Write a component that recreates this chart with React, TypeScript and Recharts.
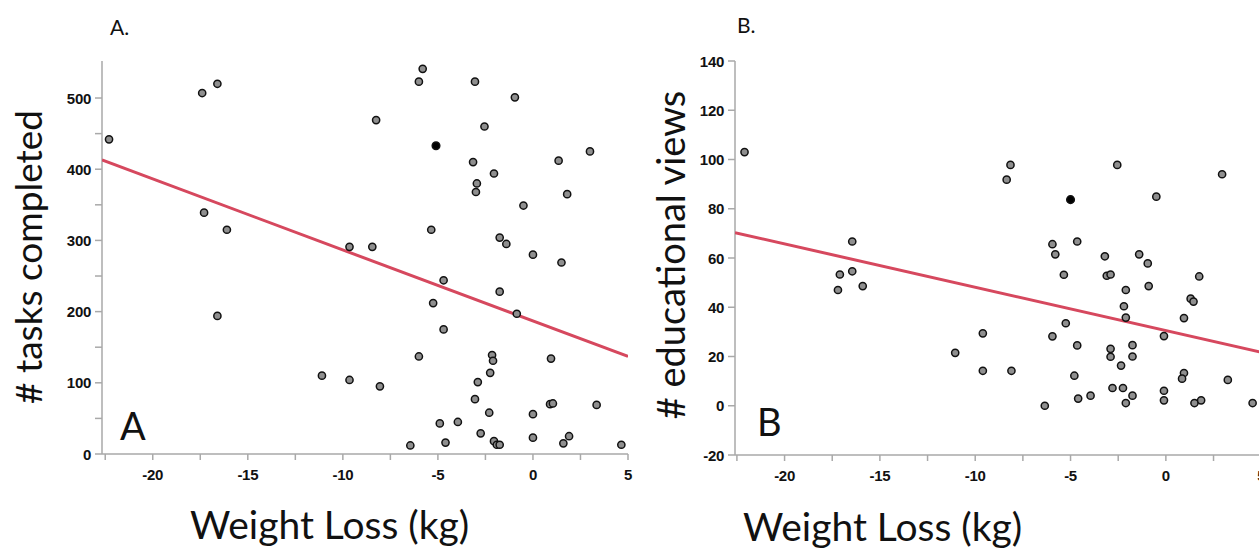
import { ScatterChart, Scatter, XAxis, YAxis } from "recharts";

// Painel A: perda de peso x tarefas concluídas
const tasksX = [
  -22.3, -17.4, -16.6, -17.3, -16.1, -16.6, -11.1, -9.65, -9.65, -8.45, -8.25, -8.05,
  -6.45, -6.0, -5.8, -6.0, -5.35, -5.25, -4.7, -4.7, -4.9, -4.6, -3.95, -3.15, -3.05,
  -3.05, -2.95, -3.0, -2.9, -2.75, -2.55, -2.3, -2.25, -2.15, -2.1, -2.05, -2.05, -1.9,
  -1.75, -1.75, -1.75, -1.4, -0.95, -0.85, -0.5, 0.0, 0.0, 0.0, 0.95, 0.9, 1.05, 1.35,
  1.5, 1.6, 1.8, 1.9, 3.0, 3.35, 4.65,
];
const tasksY = [
  442, 507, 520, 339, 315, 194, 110, 291, 104, 291, 469, 95, 12, 523, 541, 137, 315, 212,
  244, 175, 43, 16, 45, 410, 523, 77, 380, 368, 101, 29, 460, 58, 114, 139, 131, 394, 18,
  13, 13, 304, 228, 295, 501, 197, 349, 280, 56, 23, 134, 70, 71, 412, 269, 15, 365, 25,
  425, 69, 13,
];
const tasksMarkedX = [-5.1];
const tasksMarkedY = [433];
const tasksFitX = [-22.67, 5];
const tasksFitY = [413, 137];

// Painel B: perda de peso x visualizações educacionais
const viewsX = [
  -22.1, -17.1, -16.45, -16.45, -17.2, -15.9, -11.05, -9.6, -9.6, -8.15, -8.35, -8.1,
  -6.35, -5.95, -5.8, -5.95, -5.35, -5.25, -4.8, -4.65, -4.65, -4.6, -3.95, -3.2, -3.1,
  -2.9, -2.9, -2.9, -2.8, -2.55, -2.35, -2.25, -2.2, -2.1, -2.1, -2.1, -1.75, -1.75,
  -1.75, -1.4, -0.95, -0.9, -0.5, -0.1, -0.1, -0.1, 0.95, 0.95, 0.85, 1.3, 1.45, 1.5,
  1.75, 1.85, 2.95, 3.25, 4.55,
];
const viewsY = [
  103, 53.3, 66.7, 54.6, 47, 48.6, 21.5, 29.4, 14.2, 97.8, 91.8, 14.2, 0, 65.6, 61.5,
  28.2, 53.2, 33.5, 12.2, 66.7, 24.5, 2.9, 4.1, 60.7, 52.8, 53.3, 23.1, 19.9, 7.2, 97.8,
  16.3, 7.2, 40.4, 47, 35.8, 1.1, 24.6, 20, 4.1, 61.5, 57.8, 48.6, 84.9, 28.3, 6.1, 2.2,
  35.6, 13.3, 11, 43.5, 42.3, 1.1, 52.5, 2.2, 94, 10.5, 1.1,
];
const viewsMarkedX = [-5.0];
const viewsMarkedY = [83.7];
const viewsFitX = [-22.6, 5.2];
const viewsFitY = [70.3, 21.4];

const xMajor = [-20, -15, -10, -5, 0, 5];
const xMinor = [-22.5, -17.5, -12.5, -7.5, -2.5, 2.5];
const tasksMajor = [0, 100, 200, 300, 400, 500];
const tasksMinor = [50, 150, 250, 350, 450];
const viewsMajor = [-20, 0, 20, 40, 60, 80, 100, 120, 140];

const AXIS = "#a9a9a9";
const RED = "#d6485e";
const TITLE_FONT = "Lato, 'Noto Sans', sans-serif";
const TICK_STYLE = {
  fontFamily: "'Liberation Sans', Arial, sans-serif",
  fontWeight: 700,
  fontSize: 15,
  letterSpacing: -0.3,
  fill: "#111",
};

const pares = (xs: number[], ys: number[]) => xs.map((x, i) => ({ x, y: ys[i] }));

const ponto = (fill: string, r: number) =>
  // eslint-disable-next-line @typescript-eslint/no-explicit-any
  (props: any) => (
    <circle cx={props.cx} cy={props.cy} r={r} fill={fill} stroke="#111" strokeWidth={1.5} />
  );

const semForma = () => <g />;

// eslint-disable-next-line @typescript-eslint/no-explicit-any
const tickX = (props: any) => {
  const { x, y, payload } = props;
  if (!xMajor.includes(payload.value)) return <g />;
  return (
    <text x={x} y={y} dy={12} textAnchor="middle" style={TICK_STYLE}>
      {payload.value}
    </text>
  );
};

const tickY = (major: number[]) =>
  // eslint-disable-next-line @typescript-eslint/no-explicit-any
  (props: any) => {
    const { x, y, payload } = props;
    if (!major.includes(payload.value)) return <g />;
    return (
      <text x={x} y={y} dy={5.5} textAnchor="end" style={TICK_STYLE}>
        {payload.value}
      </text>
    );
  };

type PainelProps = {
  left: number;
  width: number;
  margin: { top: number; right: number; bottom: number; left: number };
  xDomain: [number, number];
  yDomain: [number, number];
  yTicks: number[];
  yMajor: number[];
  pontos: { x: number; y: number }[];
  marcados: { x: number; y: number }[];
  ajuste: { x: number; y: number }[];
};

function Painel({ left, width, margin, xDomain, yDomain, yTicks, yMajor, pontos, marcados, ajuste }: PainelProps) {
  return (
    <div style={{ position: "absolute", left, top: 0 }}>
      <ScatterChart width={width} height={555} margin={margin}>
        <XAxis
          dataKey="x"
          type="number"
          domain={xDomain}
          allowDataOverflow
          ticks={[...xMajor, ...xMinor].sort((a, b) => a - b)}
          interval={0}
          tick={tickX}
          tickSize={6}
          tickMargin={8}
          height={40}
          axisLine={{ stroke: AXIS, strokeWidth: 1.5 }}
          tickLine={{ stroke: AXIS, strokeWidth: 1.5 }}
        />
        <XAxis
          xAxisId="top"
          orientation="top"
          type="number"
          domain={xDomain}
          allowDataOverflow
          height={0}
          tick={false}
          tickLine={false}
          axisLine={{ stroke: AXIS, strokeWidth: 1.5 }}
        />
        <YAxis
          dataKey="y"
          type="number"
          domain={yDomain}
          allowDataOverflow
          ticks={yTicks}
          interval={0}
          tick={tickY(yMajor)}
          tickSize={7}
          tickMargin={4}
          width={50}
          axisLine={{ stroke: AXIS, strokeWidth: 1.5 }}
          tickLine={{ stroke: AXIS, strokeWidth: 1.5 }}
        />
        <YAxis
          yAxisId="right"
          orientation="right"
          type="number"
          domain={yDomain}
          allowDataOverflow
          width={0}
          tick={false}
          tickLine={false}
          axisLine={{ stroke: AXIS, strokeWidth: 1.5 }}
        />
        <Scatter
          data={ajuste}
          line={{ stroke: RED, strokeWidth: 3 }}
          shape={semForma}
          isAnimationActive={false}
        />
        <Scatter data={pontos} shape={ponto("#8f8f8f", 3.6)} isAnimationActive={false} />
        <Scatter data={marcados} shape={ponto("#000", 3.8)} isAnimationActive={false} />
      </ScatterChart>
    </div>
  );
}

const texto = (style: React.CSSProperties, conteudo: string) => (
  <div
    style={{
      position: "absolute",
      whiteSpace: "nowrap",
      fontFamily: TITLE_FONT,
      lineHeight: 1,
      color: "#111",
      ...style,
    }}
  >
    {conteudo}
  </div>
);

export default function App() {
  return (
    <div
      style={{
        position: "absolute",
        left: 0,
        top: 0,
        width: 1259,
        height: 555,
        overflow: "hidden",
        background: "#fff",
      }}
    >
      <Painel
        left={0}
        width={640}
        margin={{ top: 61, right: 12, bottom: 61, left: 52 }}
        xDomain={[-22.67, 5]}
        yDomain={[0, 552]}
        yTicks={[...tasksMajor, ...tasksMinor].sort((a, b) => a - b)}
        yMajor={tasksMajor}
        pontos={pares(tasksX, tasksY)}
        marcados={pares(tasksMarkedX, tasksMarkedY)}
        ajuste={pares(tasksFitX, tasksFitY)}
      />
      <Painel
        left={630}
        width={640}
        margin={{ top: 61, right: 5, bottom: 60, left: 55 }}
        xDomain={[-22.6, 5.2]}
        yDomain={[-20, 140]}
        yTicks={viewsMajor}
        yMajor={viewsMajor}
        pontos={pares(viewsX, viewsY)}
        marcados={pares(viewsMarkedX, viewsMarkedY)}
        ajuste={pares(viewsFitX, viewsFitY)}
      />

      {texto({ left: 110, top: 16, fontSize: 21 }, "A.")}
      {texto({ left: 737, top: 14, fontSize: 21 }, "B.")}

      {texto({ left: 120, top: 406, fontSize: 38 }, "A")}
      {texto({ left: 757, top: 402, fontSize: 38 }, "B")}

      {texto({ left: 190, top: 505, fontSize: 39 }, "Weight Loss (kg)")}
      {texto({ left: 743, top: 507, fontSize: 39 }, "Weight Loss (kg)")}

      {texto(
        { left: 27, top: 257, fontSize: 37, transform: "translate(-50%, -50%) rotate(-90deg)" },
        "# tasks completed"
      )}
      {texto(
        { left: 670, top: 255, fontSize: 38, transform: "translate(-50%, -50%) rotate(-90deg)" },
        "# educational views"
      )}
    </div>
  );
}
